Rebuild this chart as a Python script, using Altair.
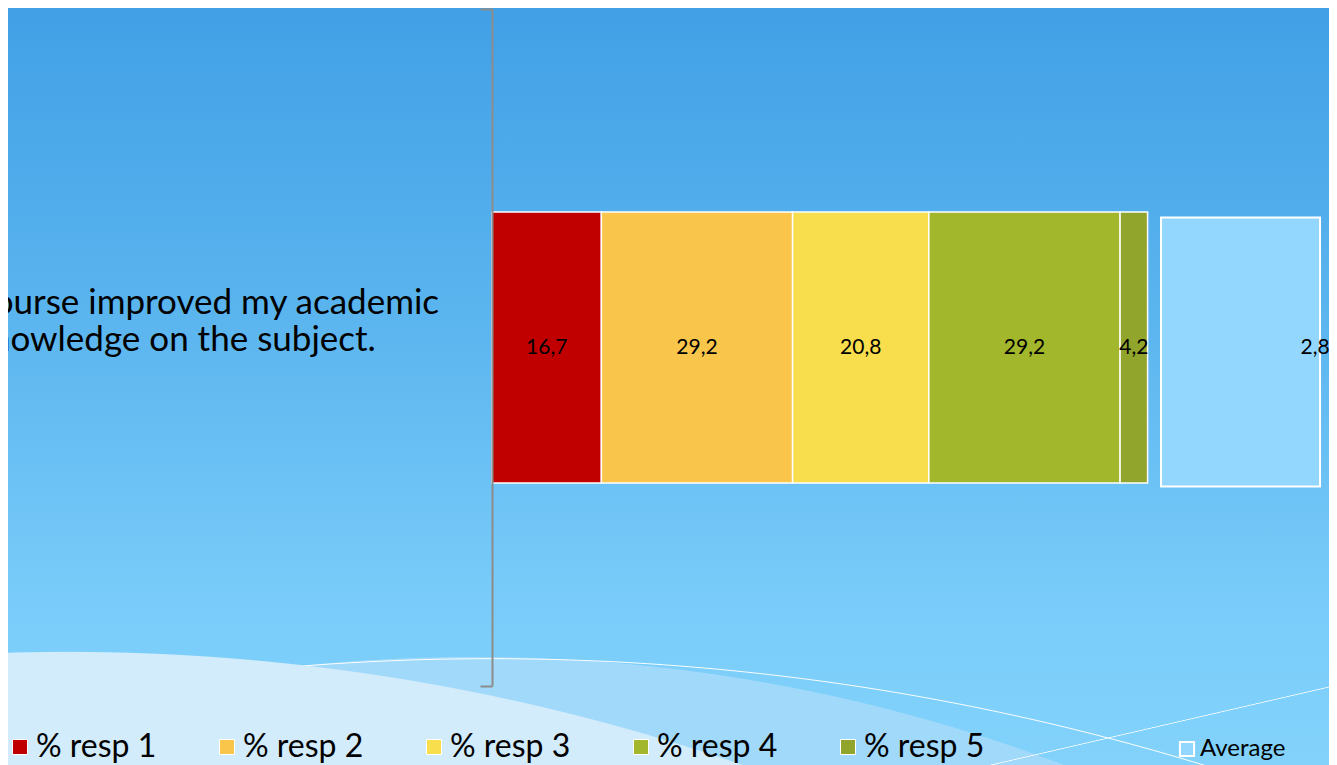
import altair as alt
import pandas as pd

# ---- data ----
questions = ["The course improved my academic\nknowledge on the subject."]
responses = ["% resp 1", "% resp 2", "% resp 3", "% resp 4", "% resp 5"]
resp_values = [16.7, 29.2, 20.8, 29.2, 4.2]
average_names = ["Average"]
average_values = [2.8]

# ---- styles ----
resp_colors = ["#C00000", "#F9C54B", "#F8DE4C", "#A3B72D", "#91A42B"]
avg_color = "#94D7FE"
FONT = "Lato"

df = pd.DataFrame({
    "question": [questions[0]] * len(responses),
    "response": responses,
    "value": resp_values,
    "order": list(range(len(responses))),
})
avg_df = pd.DataFrame({
    "question": questions,
    "series": average_names,
    "avg": average_values,
})

label_expr = "replace(format(datum.{f}, '.1f'), '.', ',')"

y_enc = alt.Y(
    "question:N",
    title=None,
    scale=alt.Scale(paddingInner=0, paddingOuter=0),
    axis=alt.Axis(
        domainColor="#8C8C8C", domainWidth=2,
        tickColor="#8C8C8C", tickWidth=2, tickSize=12, tickBand="extent",
        labelAlign="center", labelBaseline="middle", labelPadding=306,
        labelOffset=-45, labelFontSize=35, labelFont=FONT, labelColor="black",
        labelLimit=0, labelLineHeight=37, labelExpr="split(datum.label, '\\n')",
        zindex=1,
    ),
)

x_main = alt.Scale(domain=[0, 127.8], nice=False)
x_avg = alt.Scale(domain=[-11.781, 2.958], nice=False)

# ---- decorative background ----
one = alt.Data(values=[{}])
bg_grad = {"gradient": "linear", "x1": 0, "y1": 0, "x2": 0, "y2": 1,
           "stops": [{"offset": 0, "color": "#41A0E6"},
                     {"offset": 0.4, "color": "#5AB4EE"},
                     {"offset": 0.8, "color": "#7ACDFA"},
                     {"offset": 1, "color": "#82D2FB"}]}

def radial(u, v, r, color, rgba0):
    return {"gradient": "radial", "x1": u, "y1": v, "r1": 0, "x2": u, "y2": v, "r2": r,
            "stops": [{"offset": 0, "color": color},
                      {"offset": 0.9995, "color": color},
                      {"offset": 1, "color": rgba0}]}

ring_grad = {"gradient": "radial", "x1": 0.3657, "y1": 2.5530, "r1": 0,
             "x2": 0.3657, "y2": 2.5530, "r2": 1.8477,
             "stops": [{"offset": 0, "color": "rgba(255,255,255,0)"},
                       {"offset": 0.9992, "color": "rgba(255,255,255,0)"},
                       {"offset": 0.9996, "color": "rgba(255,255,255,0.95)"},
                       {"offset": 1, "color": "rgba(255,255,255,0)"}]}
line_grad = {"gradient": "linear", "x1": 0.5574, "y1": 0.5361, "x2": 0.931, "y2": 1.4639,
             "stops": [{"offset": 0, "color": "rgba(255,255,255,0)"},
                       {"offset": 0.499, "color": "rgba(255,255,255,0)"},
                       {"offset": 0.5, "color": "rgba(255,255,255,0.95)"},
                       {"offset": 0.501, "color": "rgba(255,255,255,0)"},
                       {"offset": 1, "color": "rgba(255,255,255,0)"}]}
patch_grad = {"gradient": "radial", "x1": 1.16, "y1": 1.62, "r1": 0,
              "x2": 1.16, "y2": 1.62, "r2": 0.42,
              "stops": [{"offset": 0, "color": "#9ED8FA"},
                        {"offset": 0.998, "color": "#9ED8FA"},
                        {"offset": 1, "color": "rgba(158,216,250,0)"}]}

def deco(fill):
    return alt.Chart(one).mark_rect(fill=fill).encode(
        x=alt.value(-484), x2=alt.value(837), y=alt.value(-1), y2=alt.value(756))

bg = deco(bg_grad)
wave_mid = deco(radial(0.3529, 1.9644, 1.2600, "#A1D9FA", "rgba(161,217,250,0)"))
patch = deco(patch_grad)
ring = deco(ring_grad)
line2 = deco(line_grad)
wave_light = deco(radial(0.0451, 2.2686, 1.5681, "#D2ECFC", "rgba(210,236,252,0)"))

# ---- chart marks ----
bars = alt.Chart(df).mark_bar(stroke="white", strokeWidth=1.5, height={"band": 0.4}).encode(
    x=alt.X("value:Q", stack="zero", scale=x_main, axis=None),
    y=y_enc,
    color=alt.Color(
        "response:N",
        scale=alt.Scale(domain=responses, range=resp_colors),
        legend=alt.Legend(
            title=None, orient="none", legendX=-488, legendY=722,
            direction="horizontal", columns=5, symbolType="square", symbolSize=225,
            symbolStrokeColor="white", symbolStrokeWidth=1,
            labelFontSize=32, labelFont=FONT, labelColor="black", labelOffset=0,
            columnPadding=54, labelLimit=0,
        ),
    ),
    order=alt.Order("order:Q"),
)

bar_text = alt.Chart(df).transform_stack(
    stack="value", groupby=["question"], as_=["x0", "x1"],
    sort=[alt.SortField("order", order="ascending")],
).transform_calculate(
    mid="(datum.x0 + datum.x1) / 2",
    label=label_expr.format(f="value"),
).mark_text(font=FONT, fontSize=21, color="black", baseline="middle").encode(
    x=alt.X("mid:Q", scale=x_main, axis=None),
    y=y_enc,
    text="label:N",
)

avg_bar = alt.Chart(avg_df).mark_bar(
    stroke="white", strokeWidth=2, height={"band": 0.397}, yOffset=4.5
).encode(
    x=alt.X("avg:Q", scale=x_avg, axis=None),
    y=y_enc,
    color=alt.Color(
        "series:N",
        scale=alt.Scale(domain=average_names, range=[avg_color]),
        legend=alt.Legend(
            title=None, orient="none", legendX=683, legendY=728,
            symbolType="square", symbolSize=200,
            symbolStrokeColor="white", symbolStrokeWidth=2,
            labelFontSize=24, labelFont=FONT, labelColor="black", labelOffset=1,
        ),
    ),
)

avg_text = alt.Chart(avg_df).transform_calculate(
    label=label_expr.format(f="avg"),
).mark_text(font=FONT, fontSize=21, color="black", baseline="middle", dx=-5).encode(
    x=alt.X("avg:Q", scale=x_avg, axis=None),
    y=y_enc,
    text="label:N",
)

chart = alt.layer(
    bg, wave_mid, patch, ring, line2, wave_light, bars, bar_text, avg_bar, avg_text
).resolve_scale(
    x="independent", color="independent"
).properties(
    width=837, height=677,
    autosize=alt.AutoSizeParams(type="none"),
    padding={"left": 484, "top": 1, "right": 0, "bottom": 79},
    background="white",
).configure_view(strokeWidth=0)

chart.save("out.html", embed_options={"renderer": "svg", "actions": False})
